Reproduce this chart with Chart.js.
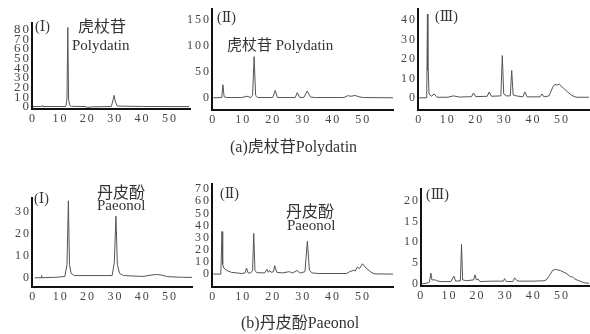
<!DOCTYPE html>
<html>
<head>
<meta charset="utf-8">
<script src="https://cdn.jsdelivr.net/npm/chart.js@4/dist/chart.umd.min.js"></script>
<style>
  html, body { margin: 0; padding: 0; background: #fff; }
  #wrap { position: relative; width: 590px; height: 334px; overflow: hidden; background: #fff; }
  canvas { position: absolute; }
  .t { position: absolute; white-space: nowrap; color: #333;
       font-family: "Liberation Serif", "DejaVu Serif", "Noto Sans CJK SC", serif; }
</style>
</head>
<body>
<div id="wrap"></div>
<script>
// ---------------- DATA ----------------
// Retention time (min) and detector response for each chromatogram
const aI_time  = [0, 3.0, 3.3, 3.6, 12.0, 12.4, 12.7, 13.0, 13.4, 14.0, 19.0, 20.0, 21.5, 28.6, 29.2, 29.6, 30.1, 30.8, 40, 50, 57];
const aI_value = [0.5, 0.5, 1.5, 0.5, 0.6, 8, 82, 8, 2, 0.8, 0.5, -0.3, 0.2, 0.6, 7, 12, 5, 1, 0.6, 0.5, 0.5];

const aII_time  = [0, 2.8, 3.2, 3.6, 4.5, 9.5, 11.2, 12.5, 13.1, 13.6, 14.1, 14.8, 19.8, 20.6, 21.4, 27.3, 28.0, 28.8, 30.2, 31.3, 32.4, 34, 43.5, 44.8, 46.0, 47.2, 48.5, 50, 60];
const aII_value = [0, 0.5, 25, 2, 0.5, 0.5, 3, 0.5, 5, 79, 5, 0.5, 0.5, 14, 0.5, 0.5, 10, 0.5, 1, 13, 1.5, 0.5, 0.5, 4, 3, 4.5, 2, 0.5, 0];

const aIII_time  = [0, 2.6, 2.85, 3.0, 3.15, 3.4, 4.2, 5.2, 6.2, 10, 12, 14, 18.3, 19.0, 19.8, 23.8, 24.5, 25.3, 28.6, 29.1, 29.6, 30.5, 31.9, 32.4, 32.9, 34, 36.3, 37, 37.8, 42.3, 43, 43.7, 45.5, 46.8, 47.6, 48.3, 49.1, 50.5, 52, 53.5, 55, 60];
const aIII_value = [0, 0, 43, 14, 14, 2, 0.8, 2, 0.3, 0.3, 1, 0.4, 0.6, 2.5, 0.6, 0.8, 3, 0.8, 1, 21.7, 2, 1, 1, 14, 1.5, 1, 0.5, 3, 0.5, 0.5, 2, 0.5, 1, 5.5, 7, 6.5, 7, 5, 3, 1.2, 0.3, 0.3];

const bI_time  = [0.5, 2.8, 3.0, 3.2, 8, 11.5, 12.3, 12.8, 13.2, 13.8, 15, 28.8, 29.6, 30.2, 30.7, 31.5, 33, 40, 43, 45, 47, 49, 55, 58];
const bI_value = [0, 0, 1, 0, 0.2, 0.6, 6, 35, 6, 2, 1, 1, 7, 28, 6, 2, 1, 0.6, 1.2, 1.5, 1.2, 0.5, 0.2, 0.2];

const bII_time  = [0, 2.5, 2.9, 3.05, 3.2, 3.5, 4.5, 6, 9.5, 10.6, 11.1, 11.6, 12.5, 13.1, 13.5, 13.9, 14.5, 17.2, 17.9, 18.4, 18.8, 19.3, 20.1, 20.5, 21.2, 23, 25.4, 26.5, 27.9, 29, 30.6, 31.4, 32.1, 33, 35, 44.5, 45.5, 46.9, 47.4, 48.1, 48.8, 49.8, 51, 53, 54, 60];
const bII_value = [0, 0, 35, 20, 8, 5, 3, 1.5, 0.5, 1, 5, 1, 1, 3, 33.5, 3, 1.2, 1, 4, 1.5, 3, 1.5, 2, 7, 1.5, 1, 2, 1, 3, 0.8, 2, 27, 3, 1, 0.5, 0.5, 2, 3.2, 2.5, 5.8, 4.5, 8.5, 5, 1, 0.2, 0];

const bIII_time  = [0, 2.4, 2.9, 3.4, 3.8, 4.3, 5.0, 5.5, 6.7, 10.5, 11.6, 12.2, 13.9, 14.3, 14.7, 16, 18.6, 19.1, 19.6, 20.2, 20.8, 25, 29.2, 29.6, 30.2, 32.5, 33.2, 34, 35, 40, 43.5, 44.4, 45.5, 46.7, 47.7, 48.5, 49.5, 51.4, 53, 53.8, 54.6, 56, 57.9, 59.6];
const bIII_value = [0, 0.3, 0.5, 2.6, 1, 1, 1, 0.8, 0.6, 0.6, 1.9, 0.7, 0.8, 9.5, 1, 0.8, 1, 2.2, 1, 1.2, 0.6, 0.7, 0.7, 1.3, 0.6, 0.6, 1.5, 0.8, 0.7, 0.7, 0.8, 1, 2, 3.3, 3.5, 3.4, 3.2, 2.6, 1.8, 1.7, 1.2, 0.8, 0.3, 0.2];

// Tick labels
const xTicks      = [0, 10, 20, 30, 40, 50];
const aI_yTicks   = [0, 10, 20, 30, 40, 50, 60, 70, 80];
const aII_yTicks  = [0, 50, 100, 150];
const aIII_yTicks = [0, 10, 20, 30, 40];
const bI_yTicks   = [0, 10, 20, 30];
const bII_yTicks  = [0, 10, 20, 30, 40, 50, 60, 70];
const bIII_yTicks = [0, 5, 10, 15, 20];

// Text
const panelLabels = ["(Ⅰ)", "(Ⅱ)", "(Ⅲ)"];
const captionA = "(a)虎杖苷Polydatin";
const captionB = "(b)丹皮酚Paeonol";

// ---------------- LAYOUT ----------------
const panels = [
  { t: aI_time,   v: aI_value,   yt: aI_yTicks,   yf: 13, axisX: 32,  top: 18,  axisY: 109, right: 190, xmin: -0.36, xmax: 57.3, ymin: -2,    ymax: 86.8 },
  { t: aII_time,  v: aII_value,  yt: aII_yTicks,  yf: 12, axisX: 212, top: 5,   axisY: 110, right: 393, xmin: -0.44, xmax: 59.9, ymin: -23.4, ymax: 170 },
  { t: aIII_time, v: aIII_value, yt: aIII_yTicks, yf: 12, axisX: 418, top: 5,   axisY: 110, right: 589, xmin: -0.46, xmax: 59.5, ymin: -6.25, ymax: 45.5 },
  { t: bI_time,   v: bI_value,   yt: bI_yTicks,   yf: 12, axisX: 32,  top: 194, axisY: 287, right: 192, xmin: -0.5,  xmax: 58,   ymin: -4.2,  ymax: 36.2 },
  { t: bII_time,  v: bII_value,  yt: bII_yTicks,  yf: 12, axisX: 212, top: 180, axisY: 287, right: 393, xmin: -0.44, xmax: 60,   ymin: -10.6, ymax: 74 },
  { t: bIII_time, v: bIII_value, yt: bIII_yTicks, yf: 12, axisX: 421, top: 185, axisY: 286, right: 589, xmin: -0.1,  xmax: 59.6, ymin: -0.46, ymax: 22.7 }
];

const wrap = document.getElementById('wrap');
const fam = '"Liberation Serif", "DejaVu Serif", serif';

const spacingPlugin = {
  id: 'spacing',
  beforeDraw(chart) { chart.ctx.letterSpacing = '2px'; }
};

panels.forEach(p => {
  const cLeft = Math.max(0, p.axisX - 34);
  const yW = p.axisX - cLeft;
  const cTop = p.top - 4;
  const w = p.right - cLeft + 1;
  const h = p.axisY + 20 - cTop;
  const cv = document.createElement('canvas');
  cv.width = w; cv.height = h;
  cv.style.left = cLeft + 'px'; cv.style.top = cTop + 'px';
  cv.style.width = w + 'px'; cv.style.height = h + 'px';
  wrap.appendChild(cv);

  const pts = p.t.map((x, i) => ({ x: x, y: p.v[i] }));
  new Chart(cv, {
    type: 'line',
    data: { datasets: [{ data: pts, borderColor: '#555', borderWidth: 1, pointRadius: 0, tension: 0, fill: false }] },
    options: {
      responsive: false, animation: false, devicePixelRatio: 1,
      layout: { padding: { left: 0, top: 4, right: 1, bottom: 0 } },
      plugins: { legend: { display: false }, tooltip: { enabled: false } },
      scales: {
        x: {
          type: 'linear', min: p.xmin, max: p.xmax,
          grid: { display: false, drawTicks: false },
          border: { display: true, color: '#111', width: 2 },
          ticks: { font: { family: fam, size: 12 }, color: '#444', padding: 3, maxRotation: 0, autoSkip: false },
          afterBuildTicks: ax => { ax.ticks = xTicks.map(v => ({ value: v })); },
          afterFit: ax => { ax.height = 20; }
        },
        y: {
          type: 'linear', min: p.ymin, max: p.ymax,
          grid: { display: false, drawTicks: false },
          border: { display: true, color: '#111', width: 2 },
          ticks: { font: { family: fam, size: p.yf }, color: '#444', padding: 1, autoSkip: false },
          afterBuildTicks: ax => { ax.ticks = p.yt.map(v => ({ value: v })); },
          afterFit: ax => { ax.width = yW; }
        }
      }
    },
    plugins: [spacingPlugin]
  });
});

// ---------------- TEXT ----------------
function addText(txt, left, top, size) {
  const d = document.createElement('div');
  d.className = 't';
  d.textContent = txt;
  d.style.left = left + 'px';
  d.style.top = top + 'px';
  d.style.fontSize = size + 'px';
  d.style.lineHeight = size + 'px';
  wrap.appendChild(d);
}
addText(panelLabels[0], 35, 20, 14);
addText("虎杖苷", 78, 19, 16);
addText("Polydatin", 72, 38, 15);
addText(panelLabels[1], 217, 11, 14);
addText("虎杖苷 Polydatin", 227, 38, 15);
addText(panelLabels[2], 435, 10, 14);
addText(captionA, 230, 139, 16);

addText(panelLabels[0], 34, 192, 14);
addText("丹皮酚", 97, 185, 16);
addText("Paeonol", 97, 198, 15);
addText(panelLabels[1], 220, 187, 14);
addText("丹皮酚", 286, 204, 16);
addText("Paeonol", 287, 218, 15);
addText(panelLabels[2], 426, 188, 14);
addText(captionB, 241, 315, 16);
</script>
</body>
</html>
